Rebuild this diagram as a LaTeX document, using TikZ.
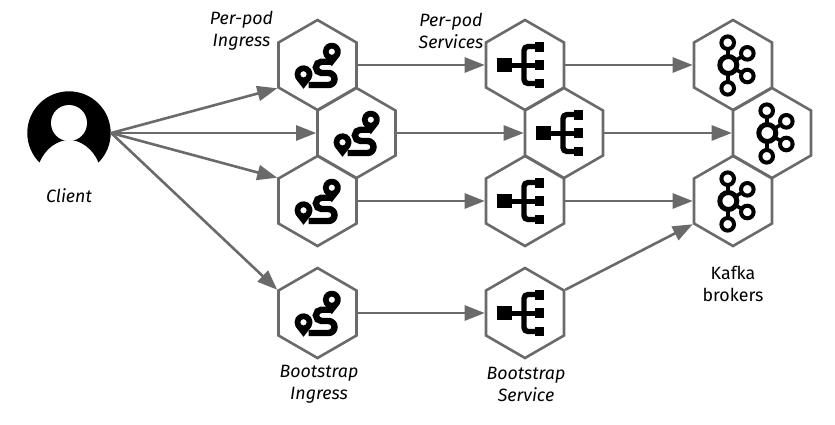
\documentclass[tikz,border=0pt]{standalone}
\usepackage{fontspec}
\setmainfont{Fira Sans}
\usetikzlibrary{shapes.geometric,arrows.meta}
\definecolor{edgegray}{HTML}{6A6A6A}
\tikzset{
  hex/.style={regular polygon,regular polygon sides=6,shape border rotate=30,minimum size=90pt,inner sep=0pt,draw=edgegray,line width=2.6pt,fill=white},
  conn/.style={draw=edgegray,line width=2.6pt,-{Triangle[length=20pt,width=15pt,fill=edgegray]}},
  lab/.style={font=\fontsize{17.8}{22}\selectfont\itshape,align=center,text=black,inner sep=0pt},
  labup/.style={font=\fontsize{17.8}{22}\selectfont,align=center,text=black,inner sep=0pt},
  kring/.style={draw=black,line width=4pt,fill=white}
}
\newcommand{\pinshape}[2]{%
  \begin{scope}[shift={(#1,#2)}]
    \fill[black,even odd rule] (-30:9) arc[start angle=-30,end angle=210,radius=9] -- (0,-14.5) -- cycle (0,0) circle[radius=3.2];
  \end{scope}}
\newcommand{\routeicon}[1]{%
  \begin{scope}[shift={(#1)}]
    \draw[black,line width=6.4pt] (-9,-20) -- (11,-20) arc[start angle=-90,end angle=90,radius=6] -- (4,-8) arc[start angle=270,end angle=90,radius=5.65] -- (14,3.3);
    \pinshape{14.3}{13.3}
    \pinshape{-14}{-9.3}
  \end{scope}}
\newcommand{\treeicon}[1]{%
  \begin{scope}[shift={(#1)}]
    \fill[black] (-27.7,-7) rectangle (-13.3,7);
    \fill[black] (10,13.5) rectangle (19,23);
    \fill[black] (10,-4.7) rectangle (19,4.7);
    \fill[black] (10,-23.3) rectangle (19,-14);
    \draw[black,line width=5pt] (-13.3,0) -- (12,0);
    \draw[black,line width=5.4pt,rounded corners=4pt] (12,18.5) -- (-1,18.5) -- (-1,-18.5) -- (12,-18.5);
  \end{scope}}
\newcommand{\kafkaicon}[1]{%
  \begin{scope}[shift={(#1)}]
    \draw[black,line width=3.6pt] (-5,22) -- (-5,-22) (-5,0) -- (14.3,11.7) (-5,0) -- (14.3,-11);
    \draw[kring] (-5.3,22.3) circle[radius=6.3];
    \draw[kring] (-5.3,-23.3) circle[radius=6.3];
    \draw[kring] (14.3,11.7) circle[radius=6.3];
    \draw[kring] (14.3,-11) circle[radius=6.3];
    \draw[kring,line width=5pt] (-4.7,0) circle[radius=8.5];
  \end{scope}}
\begin{document}
\begin{tikzpicture}[x=1pt,y=1pt]
\useasboundingbox (0,0) rectangle (835,-424);
% client
\node[circle,minimum size=84pt,inner sep=0pt] (client) at (69,-133) {};
\begin{scope}[shift={(client.center)}]
  \fill[black] (-29.5,-29.5) arc[start angle=225,end angle=-45,radius=41.7] .. controls (24,-16) and (12,-7) .. (0,-7) .. controls (-12,-7) and (-24,-16) .. (-29.5,-29.5) -- cycle;
  \fill[white] (0,10) circle[radius=18];
\end{scope}
% hexagons
\node[hex] (h1) at (317.5,-65) {};
\node[hex] (h2) at (356.5,-133) {};
\node[hex] (h3) at (317.5,-201) {};
\node[hex] (h4) at (317.5,-313) {};
\node[hex] (s1) at (525,-65) {};
\node[hex] (s2) at (564,-133) {};
\node[hex] (s3) at (525,-201) {};
\node[hex] (s4) at (525,-313) {};
\node[hex] (b1) at (733,-65) {};
\node[hex] (b2) at (772,-133) {};
\node[hex] (b3) at (733,-201) {};
% icons
\routeicon{h1.center}\routeicon{h2.center}\routeicon{h3.center}\routeicon{h4.center}
\treeicon{s1.center}\treeicon{s2.center}\treeicon{s3.center}\treeicon{s4.center}
\kafkaicon{b1.center}\kafkaicon{b2.center}\kafkaicon{b3.center}
% connectors
\draw[conn] (client.east) -- (h1.210);
\draw[conn] (client.east) -- (h2.west);
\draw[conn] (client.east) -- (h3.150);
\draw[conn] (client.east) -- (h4.150);
\draw[conn] (h1.east) -- (s1.west);
\draw[conn] (h2.east) -- (s2.west);
\draw[conn] (h3.east) -- (s3.west);
\draw[conn] (h4.east) -- (s4.west);
\draw[conn] (s1.east) -- (b1.west);
\draw[conn] (s2.east) -- (b2.west);
\draw[conn] (s3.east) -- (b3.west);
\draw[conn] (s4.30) -- (b3.210);
% labels
\node[lab] (tclient) at (69,-196) {Client};
\node[lab] (t1) at (241.5,-31) {Per-pod\\Ingress};
\node[lab] (t2) at (451,-31) {Per-pod\\Services};
\node[lab] (t3) at (319,-384) {Bootstrap\\Ingress};
\node[lab] (t4) at (526,-384) {Bootstrap\\Service};
\node[labup] (t5) at (733,-284) {Kafka\\brokers};
\end{tikzpicture}
\end{document}
